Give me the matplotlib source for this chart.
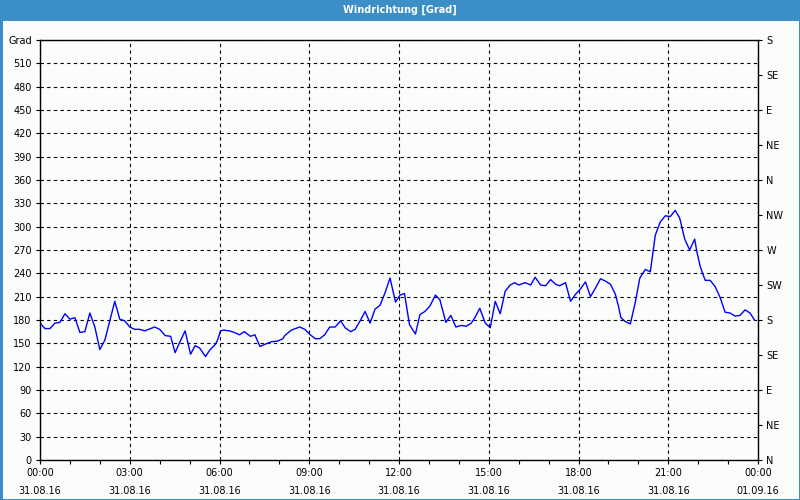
import matplotlib
matplotlib.use("Agg")
import matplotlib.pyplot as plt
from matplotlib.patches import Rectangle
from matplotlib.ticker import MultipleLocator

# Wind direction samples, minutes since 31.08.16 00:00 and degrees
minutes = [0, 10, 20, 30, 40, 50, 60, 70, 80, 90, 100, 110, 120, 130, 150, 160, 170,
           180, 190, 200, 210, 230, 240, 251, 262, 271, 280, 291, 302, 311, 320, 332,
           340, 352, 356, 362, 368, 380, 390, 400, 410, 422, 431, 441, 452, 464, 477,
           487, 491, 504, 521, 531, 542, 552, 561, 571, 581, 592, 603, 612, 623, 632,
           643, 652, 662, 672, 682, 692, 702, 713, 722, 731, 741, 753, 762, 772, 782,
           793, 802, 814, 824, 834, 845, 855, 865, 873, 882, 893, 903, 913, 923, 933,
           943, 952, 960, 973, 984, 993, 1004, 1014, 1024, 1034, 1042, 1054, 1064,
           1074, 1084, 1094, 1104, 1114, 1124, 1134, 1144, 1154, 1160, 1165, 1174,
           1184, 1194, 1203, 1214, 1224, 1229, 1234, 1244, 1254, 1264, 1274, 1283,
           1293, 1303, 1313, 1317, 1324, 1334, 1344, 1354, 1364, 1374, 1384, 1394,
           1404, 1414, 1424, 1433]
degrees = [176, 169, 169, 176, 177, 188, 181, 183, 164, 165, 189, 171, 142, 154, 204, 181, 179,
           171, 168, 168, 166, 171, 168, 160, 159, 138, 151, 166, 136, 147, 144, 133,
           141, 149, 154, 166, 167, 166, 164, 161, 165, 159, 161, 146, 149, 152, 153,
           156, 160, 167, 171, 168, 161, 156, 156, 161, 171, 171, 179, 170, 165, 168,
           180, 191, 176, 194, 199, 215, 234, 203, 212, 214, 174, 162, 187, 191, 198,
           212, 206, 177, 186, 171, 173, 172, 176, 184, 195, 176, 170, 204, 188, 217,
           225, 228, 225, 228, 225, 235, 225, 224, 232, 226, 224, 228, 204,
           213, 220, 229, 210, 221, 233, 230, 226, 213, 198, 183, 178,
           175, 203, 234, 245, 242, 266, 289, 306, 314, 313, 321, 311,
           284, 270, 284, 269, 249, 231, 231, 223, 209, 190, 189, 185,
           186, 193, 189, 180]

hour_ticks = [0, 3, 6, 9, 12, 15, 18, 21, 24]
hour_labels = ["00:00\n31.08.16", "03:00\n31.08.16", "06:00\n31.08.16", "09:00\n31.08.16",
               "12:00\n31.08.16", "15:00\n31.08.16", "18:00\n31.08.16", "21:00\n31.08.16",
               "00:00\n01.09.16"]
deg_ticks = list(range(0, 541, 30))
deg_labels = [str(v) for v in range(0, 511, 30)] + ["Grad"]
compass_ticks = list(range(0, 541, 45))
compass_labels = ["N", "NE", "E", "SE", "S", "SW", "W", "NW", "N", "NE", "E", "SE", "S"]

plt.rcParams['font.family'] = ['DejaVu Sans']
fig = plt.figure(figsize=(8, 5), dpi=100, facecolor='#fbfdfd')

# title bar and frame
fig.patches.append(Rectangle((0, 1 - 21 / 500), 1, 21 / 500, transform=fig.transFigure,
                             facecolor='#3c8fc6', edgecolor='none'))
fig.patches.append(Rectangle((0.5 / 800, 0.5 / 500), 799 / 800, 1 - 1 / 500, transform=fig.transFigure,
                             facecolor='none', edgecolor='#3c8fc6', lw=1.0, antialiased=False))
fig.text(0.5, 1 - 10 / 500, "Windrichtung [Grad]", color='white', fontsize=7,
         fontweight='bold', ha='center', va='center')

ax = fig.add_axes([40 / 800, 40 / 500, 718 / 800, 420 / 500])
ax.set_facecolor('#fbfdfd')
hours = [m / 60 for m in minutes]
ax.plot(hours, degrees, color='#0000ff', lw=1)

ax.set_xlim(0, 24)
ax.set_ylim(0, 540)
ax.set_xticks(hour_ticks)
ax.set_xticklabels(hour_labels, fontsize=7, linespacing=1.9)
ax.xaxis.set_minor_locator(MultipleLocator(1))
ax.set_yticks(deg_ticks)
ax.set_yticklabels(deg_labels, fontsize=7)
ax.tick_params(axis='both', which='major', length=3, width=0.8, pad=3)
ax.tick_params(axis='x', which='minor', length=3, width=0.8)

ax.grid(True, which='major', color='black', linestyle=(0, (3, 3)), lw=0.8)
for s in ax.spines.values():
    s.set_linewidth(1)

ax2 = ax.twinx()
ax2.set_ylim(0, 540)
ax2.set_yticks(compass_ticks)
ax2.set_yticklabels(compass_labels, fontsize=7)
ax2.tick_params(axis='y', length=3, width=0.8, pad=3)
for s in ax2.spines.values():
    s.set_visible(False)

fig.savefig("out.png", dpi=100, facecolor=fig.get_facecolor())
